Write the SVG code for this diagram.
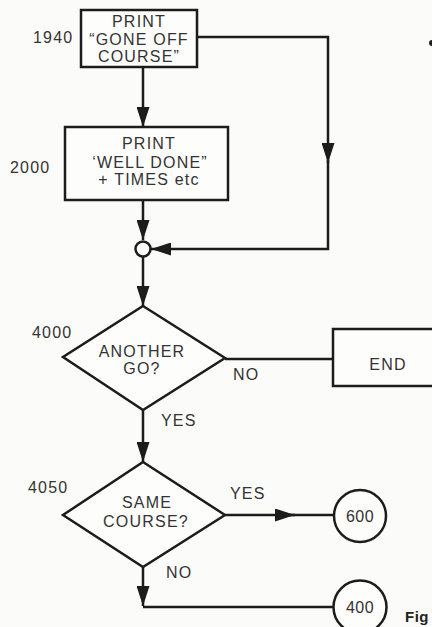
<svg xmlns="http://www.w3.org/2000/svg" width="432" height="627" viewBox="0 0 432 627">
<style>
.s{fill:none;stroke:#1c1c1c;stroke-width:2.5;stroke-linejoin:miter}
.b{fill:#fdfdfb;stroke:#1c1c1c;stroke-width:2.5}
text{font-family:"Liberation Sans",Arial,sans-serif;font-size:16px;fill:#333;letter-spacing:1.2px}
.c{text-anchor:middle}
.sm{font-size:16px;letter-spacing:0.5px}
</style>
<defs>
<marker id="ah" viewBox="0 0 20 13" refX="20" refY="6.5" markerWidth="20" markerHeight="13" markerUnits="userSpaceOnUse" orient="auto">
<path d="M0,0 L20,6.5 L0,13 z" fill="#1c1c1c"/>
</marker>
</defs>
<rect width="432" height="627" fill="#fbfbf9"/>
<g id="connectors">
<path class="s" d="M143,67 V127" marker-end="url(#ah)"/>
<path class="s" d="M197,37 H328 V163" marker-end="url(#ah)"/>
<path class="s" d="M328,160 V249 H151" marker-end="url(#ah)"/>
<path class="s" d="M143,200 V240" marker-end="url(#ah)"/>
<path class="s" d="M143,257 V306" marker-end="url(#ah)"/>
<path class="s" d="M225,359 H333"/>
<path class="s" d="M143,410 V462" marker-end="url(#ah)"/>
<path class="s" d="M225,515 H295" marker-end="url(#ah)"/>
<path class="s" d="M290,515 H334"/>
<path class="s" d="M143,567 V606" marker-end="url(#ah)"/>
<path class="s" d="M143,607 H333"/>
<text x="233" y="380">NO</text>
<text x="161" y="426">YES</text>
<text x="230" y="499">YES</text>
<text x="166" y="578">NO</text>
</g>
<g id="n1940">
<rect class="b" x="81" y="10" width="116" height="57"/>
<text class="c" x="139" y="27">PRINT</text>
<text class="c" x="139" y="45">“GONE OFF</text>
<text class="c" x="139" y="62">COURSE”</text>
<text x="33" y="43">1940</text>
</g>
<g id="n2000">
<rect class="b" x="65" y="127" width="163" height="73"/>
<text class="c" x="149" y="149">PRINT</text>
<text class="c" x="150" y="168">‘WELL DONE”</text>
<text class="c" x="149" y="185">+ TIMES etc</text>
<text x="10" y="173">2000</text>
</g>
<g id="junction">
<circle class="b" cx="143" cy="249" r="7.5"/>
</g>
<g id="n4000">
<path class="b" d="M143,306 L225,358 L143,410 L63,357 Z"/>
<text class="c" x="142" y="357">ANOTHER</text>
<text class="c" x="142" y="374">GO?</text>
<text x="32" y="338">4000</text>
</g>
<g id="end">
<rect class="b" x="333" y="329" width="110" height="57"/>
<text class="c" x="388" y="370">END</text>
</g>
<g id="n4050">
<path class="b" d="M143,462 L225,515 L143,567 L63,515 Z"/>
<text class="c" x="147" y="508">SAME</text>
<text class="c" x="146" y="527">COURSE?</text>
<text x="28" y="493">4050</text>
</g>
<g id="c600">
<circle class="b" cx="360" cy="516" r="26"/>
<text class="c sm" x="360" y="522">600</text>
</g>
<g id="c400">
<circle class="b" cx="360" cy="607" r="26.5"/>
<text class="c sm" x="360" y="613">400</text>
</g>
<text x="405" y="622" style="font-size:15px;font-weight:bold;fill:#222;letter-spacing:0.5px">Fig</text>
<circle cx="432" cy="43" r="3" fill="#222"/>
</svg>
